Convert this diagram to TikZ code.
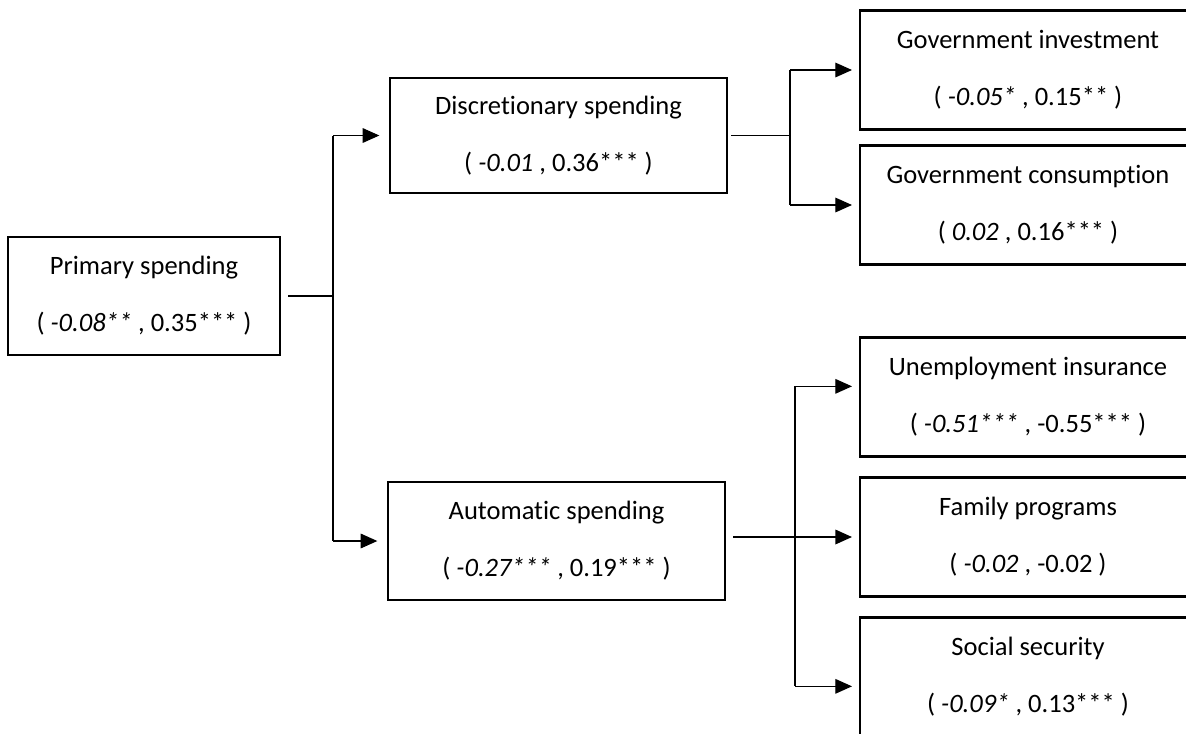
\documentclass[tikz,border=0pt]{standalone}
\usepackage{fontspec}
\setmainfont{Carlito}[Ligatures=CommonOff]
\usetikzlibrary{arrows.meta}

\begin{document}
\begin{tikzpicture}[x=0.75pt,y=-0.75pt]
			\tikzstyle{every node}=[font=\fontsize{19.9}{42.75}\selectfont]
			\tikzstyle{box}=[draw,rectangle,line width=2pt,inner sep=0pt,align=center,
				minimum width=252pt,minimum height=89pt]
			\tikzstyle{link}=[line width=0.8pt,-{Triangle[length=12.5pt,width=11pt]},shorten >=5pt]
			\tikzstyle{stub}=[line width=1.4pt]
			\clip (0,0) rectangle (1186,733);
			\node[box,minimum width=204pt,minimum height=88.5pt] (prim) at (144,296)
				{Primary spending\\( \textit{-0.08**} , 0.35*** )};
			\node[box,minimum width=252.75pt,minimum height=86.25pt] (disc) at (558.5,135.5)
				{Discretionary spending\\( \textit{-0.01} , 0.36*** )};
			\node[box,minimum width=252.75pt,minimum height=88.5pt] (auto) at (556.5,541)
				{Automatic spending\\( \textit{-0.27***} , 0.19*** )};
			\node[box] (ginv) at (1028,70) {Government investment\\( \textit{-0.05*} , 0.15** )};
			\node[box] (gcon) at (1028,205) {Government consumption\\( \textit{0.02} , 0.16*** )};
			\node[box] (unemp) at (1028,397) {Unemployment insurance\\( \textit{-0.51***} , -0.55*** )};
			\node[box] (fam) at (1028,537) {Family programs\\( \textit{-0.02} , -0.02 )};
			\node[box] (soc) at (1028,677) {Social security\\( \textit{-0.09*} , 0.13*** )};
			\coordinate (jprim) at (333,296);
			\coordinate (jdisc) at (790,135.5);
			\coordinate (jauto) at (795,537);
			\coordinate (unemp-in) at ([yshift=8pt]unemp.west);
			\coordinate (soc-in) at ([yshift=-7pt]soc.west);
			\draw[stub] ([xshift=5pt]prim.east) -- (jprim);
			\draw[line width=0.8pt] (jprim |- disc.west) -- (jprim |- auto.west);
			\draw[link,shorten >=7pt] (jprim |- disc.west) -- (disc.west);
			\draw[link,shorten >=7pt] (jprim |- auto.west) -- (auto.west);
			\draw[stub] ([xshift=2pt]disc.east) -- (jdisc);
			\draw[line width=0.8pt] (jdisc |- ginv.west) -- (jdisc |- gcon.west);
			\draw[link] (jdisc |- ginv.west) -- (ginv.west);
			\draw[link] (jdisc |- gcon.west) -- (gcon.west);
			\draw[line width=1pt,-{Triangle[length=12.5pt,width=11pt]},shorten >=5pt]
				([xshift=5pt,yshift=3pt]auto.east) -- (fam.west);
			\draw[line width=0.8pt] (jauto |- unemp-in) -- (jauto |- soc-in);
			\draw[link] (jauto |- unemp-in) -- (unemp-in);
			\draw[link] (jauto |- soc-in) -- (soc-in);
		\end{tikzpicture}
\end{document}
